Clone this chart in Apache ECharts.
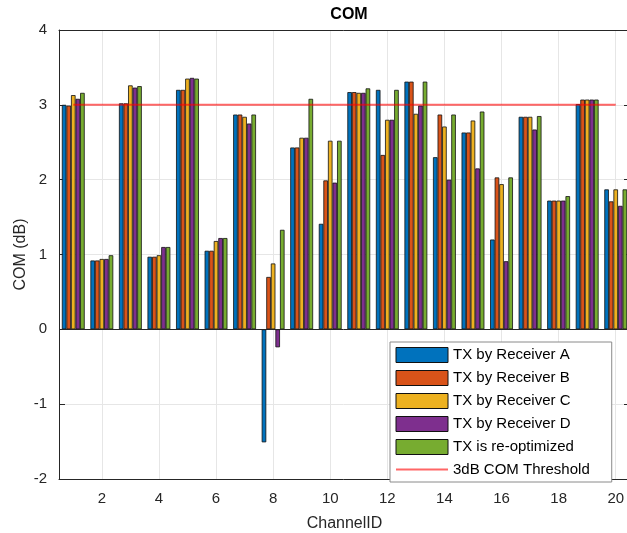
<!DOCTYPE html>
<html>
<head>
<meta charset="utf-8">
<style>
  html, body { margin: 0; padding: 0; background: #fff; }
  #chart { width: 627px; height: 533px; }
</style>
<script src="https://cdn.jsdelivr.net/npm/echarts@6/dist/echarts.min.js"></script>
</head>
<body>
<div id="chart"></div>
<script>
// Channel IDs on the x axis
const channels = ['1','2','3','4','5','6','7','8','9','10','11','12','13','14','15','16','17','18','19','20'];

// COM (dB) per channel for each transmitter setting
const rxA = [3.00, 0.92, 3.02, 0.97, 3.20, 1.05, 2.87, -1.51, 2.43, 1.41, 3.17, 3.20, 3.31, 2.30, 2.63, 1.20, 2.84, 1.72, 3.01, 1.87];
const rxB = [2.99, 0.92, 3.02, 0.97, 3.20, 1.05, 2.87, 0.70, 2.43, 1.99, 3.17, 2.33, 3.31, 2.87, 2.63, 2.03, 2.84, 1.72, 3.07, 1.71];
const rxC = [3.13, 0.94, 3.26, 0.99, 3.35, 1.18, 2.84, 0.88, 2.56, 2.52, 3.16, 2.80, 2.88, 2.71, 2.79, 1.94, 2.84, 1.72, 3.07, 1.87];
const rxD = [3.08, 0.94, 3.23, 1.10, 3.36, 1.22, 2.75, -0.24, 2.56, 1.96, 3.16, 2.80, 2.99, 2.00, 2.15, 0.91, 2.67, 1.72, 3.07, 1.65];
const reopt = [3.16, 0.99, 3.25, 1.10, 3.35, 1.22, 2.87, 1.33, 3.08, 2.52, 3.22, 3.20, 3.31, 2.87, 2.91, 2.03, 2.85, 1.78, 3.07, 1.87];

// 3 dB pass/fail threshold across all channels
const threshold = [3, 3, 3, 3, 3, 3, 3, 3, 3, 3, 3, 3, 3, 3, 3, 3, 3, 3, 3, 3];

// Y axis tick range
const yTicks = { min: -2, max: 4, step: 1 };

const seriesNames = ['TX by Receiver A', 'TX by Receiver B', 'TX by Receiver C', 'TX by Receiver D', 'TX is re-optimized'];
const thresholdName = '3dB COM Threshold';
const seriesData = [rxA, rxB, rxC, rxD, reopt];
const colors = ['#0072BD', '#D95319', '#EDB120', '#7E2F8E', '#77AC30'];

const FONT = "'Liberation Sans', Arial, Helvetica, sans-serif";
const AXIS_COLOR = '#262626';
const GRID_COLOR = '#e6e6e6';
const evenChannel = (idx) => idx % 2 === 1;

const barSeries = seriesData.map((data, i) => {
  const s = {
    name: seriesNames[i],
    type: 'bar',
    data: data,
    barGap: '0%',
    barCategoryGap: '20%',
    itemStyle: { color: colors[i], borderColor: '#111', borderWidth: 0.8 },
    emphasis: { disabled: true },
    z: 3
  };
  if (i === 0) {
    // bar baseline at 0 dB
    s.markLine = {
      silent: true,
      symbol: 'none',
      label: { show: false },
      lineStyle: { color: AXIS_COLOR, width: 1, type: 'solid' },
      data: [{ yAxis: 0 }],
      animation: false
    };
  }
  return s;
});

// legend: filled boxes for the bar series; the threshold keeps its line but hides the marker
const legendItems = seriesNames.map(n => ({
  name: n,
  icon: 'rect',
  itemStyle: { borderColor: '#111', borderWidth: 1 }
})).concat([{
  name: thresholdName,
  itemStyle: { opacity: 0 }
}]);

const chart = echarts.init(document.getElementById('chart'), null, { renderer: 'canvas' });

chart.setOption({
  animation: false,
  backgroundColor: '#ffffff',
  title: {
    text: 'COM',
    left: 344,
    top: 2,
    textAlign: 'center',
    textStyle: { fontFamily: FONT, fontSize: 16, fontWeight: 'bold', color: '#000' }
  },
  grid: { left: 59, right: -3, top: 30, bottom: 54, containLabel: false, outerBoundsMode: 'none' },
  legend: {
    orient: 'vertical',
    left: 390,
    top: 342,
    padding: [5, 22, 5, 5],
    itemWidth: 52,
    itemHeight: 15,
    itemGap: 7,
    backgroundColor: '#ffffff',
    borderColor: '#8a8a8a',
    borderWidth: 1,
    textStyle: { fontFamily: FONT, fontSize: 15, color: '#000' },
    data: legendItems,
    selectedMode: false,
    z: 20
  },
  xAxis: [
    {
      type: 'category',
      data: channels,
      position: 'bottom',
      name: 'ChannelID',
      nameLocation: 'middle',
      nameGap: 37,
      nameMoveOverlap: false,
      nameTextStyle: { fontFamily: FONT, fontSize: 16, color: AXIS_COLOR },
      axisLine: { onZero: false, lineStyle: { color: AXIS_COLOR, width: 1 } },
      axisTick: { inside: true, length: 6, alignWithLabel: true, interval: evenChannel, lineStyle: { color: AXIS_COLOR } },
      axisLabel: { interval: evenChannel, margin: 12, fontFamily: FONT, fontSize: 15, color: AXIS_COLOR },
      splitLine: { show: true, alignWithLabel: true, interval: evenChannel, lineStyle: { color: GRID_COLOR, width: 1 } }
    },
    {
      type: 'category',
      data: channels,
      position: 'top',
      axisLine: { onZero: false, lineStyle: { color: AXIS_COLOR, width: 1 } },
      axisTick: { inside: true, length: 6, alignWithLabel: true, interval: evenChannel, lineStyle: { color: AXIS_COLOR } },
      axisLabel: { show: false },
      splitLine: { show: false }
    }
  ],
  yAxis: [
    {
      type: 'value',
      min: yTicks.min,
      max: yTicks.max,
      interval: yTicks.step,
      name: 'COM (dB)',
      nameLocation: 'middle',
      nameGap: 30,
      nameMoveOverlap: false,
      nameTextStyle: { fontFamily: FONT, fontSize: 16, color: AXIS_COLOR },
      axisLine: { show: true, onZero: false, lineStyle: { color: AXIS_COLOR, width: 1 } },
      axisTick: { show: true, inside: true, length: 6, lineStyle: { color: AXIS_COLOR } },
      axisLabel: { margin: 12, fontFamily: FONT, fontSize: 15, color: AXIS_COLOR },
      splitLine: { show: true, lineStyle: { color: GRID_COLOR, width: 1 } }
    },
    {
      type: 'value',
      min: yTicks.min,
      max: yTicks.max,
      interval: yTicks.step,
      position: 'right',
      axisLine: { show: true, onZero: false, lineStyle: { color: AXIS_COLOR, width: 1 } },
      axisTick: { show: true, inside: true, length: 6, lineStyle: { color: AXIS_COLOR } },
      axisLabel: { show: false },
      splitLine: { show: false }
    }
  ],
  series: barSeries.concat([
    {
      name: thresholdName,
      type: 'line',
      data: threshold,
      symbol: 'none',
      color: '#ff0000',
      lineStyle: { color: '#ff0000', opacity: 0.6, width: 2 },
      itemStyle: { color: '#ff0000' },
      emphasis: { disabled: true },
      z: 5
    }
  ])
});
</script>
</body>
</html>
